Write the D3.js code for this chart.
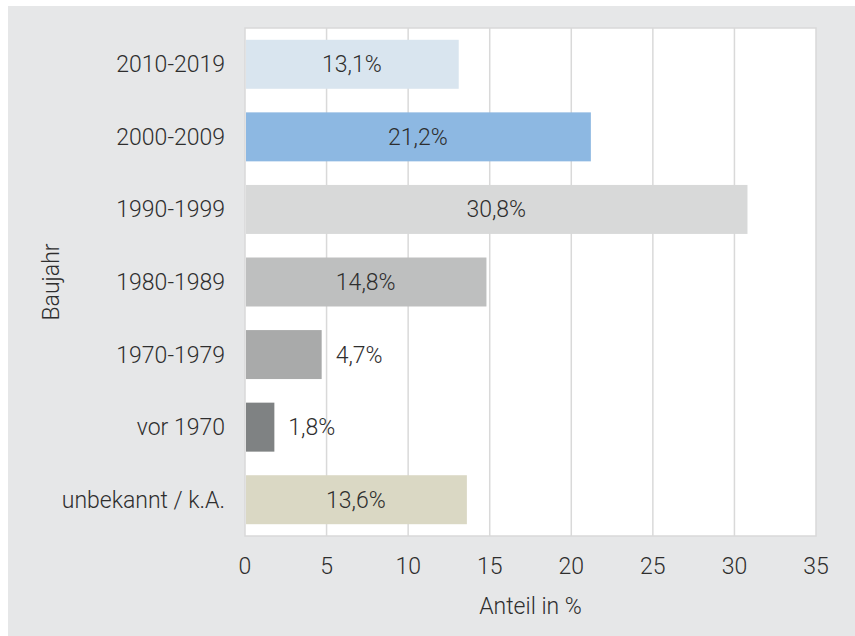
<!DOCTYPE html>
<html>
<head>
<meta charset="utf-8">
<script src="https://cdn.jsdelivr.net/npm/d3@7"></script>
<style>
  body { margin: 0; background: #fff; }
  text { font-family: Roboto, "Liberation Sans", sans-serif; font-weight: 300; fill: #2e2e2e; }
</style>
</head>
<body>
<div id="chart"></div>
<script>
const CATEGORIES = ["2010-2019", "2000-2009", "1990-1999", "1980-1989", "1970-1979", "vor 1970", "unbekannt / k.A."];
const VALUES = [13.1, 21.2, 30.8, 14.8, 4.7, 1.8, 13.6];
const COLORS = ["#d9e5ef", "#8db8e2", "#d8d9d9", "#bebfbf", "#a9aaaa", "#7f8283", "#dad8c4"];
const TICKS = [0, 5, 10, 15, 20, 25, 30, 35];

const WIDTH = 855;
const HEIGHT = 636;
const LEFT = 245, RIGHT = 816, TOP = 28, BOTTOM = 536;
const FONT = 23;

const data = CATEGORIES.map((c, i) => ({ cat: c, value: VALUES[i], color: COLORS[i] }));

const svg = d3.select("#chart").append("svg")
    .attr("width", WIDTH)
    .attr("height", HEIGHT);

// grey frame
svg.append("rect")
    .attr("x", 8).attr("y", 6)
    .attr("width", WIDTH - 8).attr("height", HEIGHT - 6)
    .attr("fill", "#e6e7e8");

const x = d3.scaleLinear().domain([0, 35]).range([LEFT, RIGHT]);
const y = d3.scaleBand().domain(CATEGORIES).range([TOP, BOTTOM]).paddingInner(0.325).paddingOuter(0.1625);

// plot area
svg.append("rect")
    .attr("x", LEFT).attr("y", TOP)
    .attr("width", RIGHT - LEFT).attr("height", BOTTOM - TOP)
    .attr("fill", "#fff")
    .attr("stroke", "#d9d9d9")
    .attr("stroke-width", 1.5);

svg.append("g").selectAll("line")
  .data(TICKS.slice(1, -1))
  .enter().append("line")
    .attr("x1", d => x(d)).attr("x2", d => x(d))
    .attr("y1", TOP).attr("y2", BOTTOM)
    .attr("stroke", "#d9d9d9")
    .attr("stroke-width", 1.5);

// bars
svg.append("g").selectAll("rect")
  .data(data)
  .enter().append("rect")
    .attr("x", x(0) + 1)
    .attr("y", d => y(d.cat))
    .attr("width", d => x(d.value) - x(0) - 1)
    .attr("height", y.bandwidth())
    .attr("fill", d => d.color);

// value labels
svg.append("g").selectAll("text")
  .data(data)
  .enter().append("text")
    .text(d => d3.format(".1f")(d.value).replace(".", ",") + "%")
    .attr("x", d => d.value < 8 ? x(d.value) + 14 : (x(0) + x(d.value)) / 2)
    .attr("y", d => y(d.cat) + y.bandwidth() / 2)
    .attr("dy", "0.35em")
    .attr("text-anchor", d => d.value < 8 ? "start" : "middle")
    .attr("font-size", FONT);

// category labels
svg.append("g").selectAll("text")
  .data(CATEGORIES)
  .enter().append("text")
    .text(d => d)
    .attr("x", LEFT - 20)
    .attr("y", d => y(d) + y.bandwidth() / 2)
    .attr("dy", "0.35em")
    .attr("text-anchor", "end")
    .attr("font-size", FONT);

// x tick labels
svg.append("g").selectAll("text")
  .data(TICKS)
  .enter().append("text")
    .text(d => d)
    .attr("x", d => x(d))
    .attr("y", 566)
    .attr("dy", "0.35em")
    .attr("text-anchor", "middle")
    .attr("font-size", FONT);

svg.append("text")
    .text("Anteil in %")
    .attr("x", (LEFT + RIGHT) / 2)
    .attr("y", 606)
    .attr("dy", "0.35em")
    .attr("text-anchor", "middle")
    .attr("font-size", FONT);

svg.append("text")
    .text("Baujahr")
    .attr("transform", `translate(51,${(TOP + BOTTOM) / 2}) rotate(-90)`)
    .attr("dy", "0.35em")
    .attr("text-anchor", "middle")
    .attr("font-size", FONT);
</script>
</body>
</html>
